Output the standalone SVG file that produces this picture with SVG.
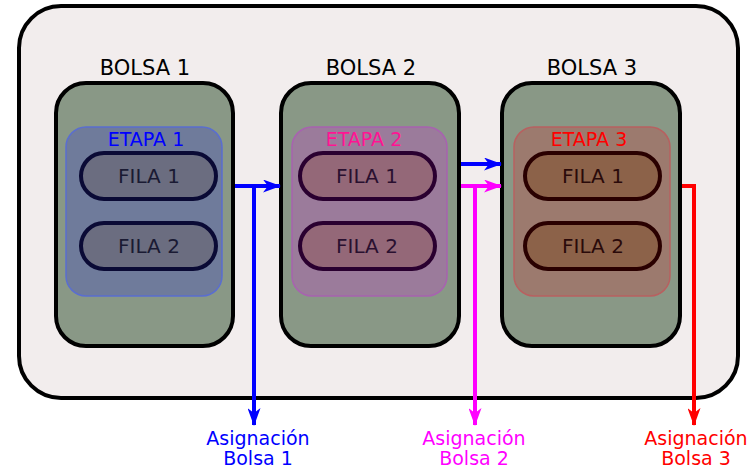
<svg xmlns="http://www.w3.org/2000/svg" width="751" height="471" viewBox="0 0 751 471">
<style>
text{font-family:"DejaVu Sans","Liberation Sans",sans-serif;text-anchor:middle}
.bolsa{fill:#899886;stroke:#000;stroke-width:4}
.blabel{font-size:21px;fill:#000}
.etapa{stroke-width:1.5}
.fila{stroke-width:4}
.ftxt{font-size:20px}
.elabel{font-size:19px}
.lab{font-size:19px}
.wire{fill:none;stroke-width:4}
</style>
<defs>
<marker id="ab" viewBox="0 0 18 13" refX="17" refY="6.5" markerWidth="18" markerHeight="13" orient="auto" markerUnits="userSpaceOnUse"><path d="M0,0 L18,6.5 L0,13 L5,6.5 Z" fill="#0000ff"/></marker>
<marker id="am" viewBox="0 0 18 13" refX="17" refY="6.5" markerWidth="18" markerHeight="13" orient="auto" markerUnits="userSpaceOnUse"><path d="M0,0 L18,6.5 L0,13 L5,6.5 Z" fill="#ff00ff"/></marker>
<marker id="ar" viewBox="0 0 18 13" refX="17" refY="6.5" markerWidth="18" markerHeight="13" orient="auto" markerUnits="userSpaceOnUse"><path d="M0,0 L18,6.5 L0,13 L5,6.5 Z" fill="#ff0000"/></marker>
</defs>
<g id="contenedor">
<rect x="19" y="6" width="719" height="392" rx="42" fill="#f2eded" stroke="#000" stroke-width="4"/>
</g>
<g id="bolsa1">
<text class="blabel" x="145" y="75">BOLSA 1</text>
<rect class="bolsa" x="56" y="83" width="177" height="263" rx="30"/>
<rect class="etapa" x="66" y="127" width="156" height="169" rx="20" fill="#6f7b9b" stroke="#5a6ed0"/>
<text class="elabel" x="146" y="146" fill="#0000ff">ETAPA 1</text>
<rect class="fila" x="81" y="153" width="135" height="46" rx="23" fill="#6b6d80" stroke="#0a0a35"/>
<text class="ftxt" x="149" y="183" fill="#1a1a33">FILA 1</text>
<rect class="fila" x="81" y="223" width="135" height="46" rx="23" fill="#6b6d80" stroke="#0a0a35"/>
<text class="ftxt" x="149" y="253" fill="#1a1a33">FILA 2</text>
</g>
<g id="bolsa2">
<text class="blabel" x="371" y="75">BOLSA 2</text>
<rect class="bolsa" x="281" y="83" width="178" height="263" rx="30"/>
<rect class="etapa" x="292" y="127" width="155" height="169" rx="20" fill="#9b7b9b" stroke="#a862b0"/>
<text class="elabel" x="364" y="146" fill="#ff1493">ETAPA 2</text>
<rect class="fila" x="300" y="153" width="135" height="46" rx="23" fill="#946878" stroke="#2a0030"/>
<text class="ftxt" x="367" y="183" fill="#2a1030">FILA 1</text>
<rect class="fila" x="300" y="223" width="135" height="46" rx="23" fill="#946878" stroke="#2a0030"/>
<text class="ftxt" x="367" y="253" fill="#2a1030">FILA 2</text>
</g>
<g id="bolsa3">
<text class="blabel" x="592" y="75">BOLSA 3</text>
<rect class="bolsa" x="502" y="83" width="178" height="263" rx="30"/>
<rect class="etapa" x="514" y="127" width="156" height="169" rx="20" fill="#9c7a6e" stroke="#b86060"/>
<text class="elabel" x="589" y="146" fill="#ff0000">ETAPA 3</text>
<rect class="fila" x="525" y="153" width="135" height="46" rx="23" fill="#8c6249" stroke="#2a0000"/>
<text class="ftxt" x="593" y="183" fill="#2a0a0a">FILA 1</text>
<rect class="fila" x="525" y="223" width="135" height="46" rx="23" fill="#8c6249" stroke="#2a0000"/>
<text class="ftxt" x="593" y="253" fill="#2a0a0a">FILA 2</text>
</g>
<g id="conectores">
<path class="wire" d="M235,186 H280" stroke="#0000ff" marker-end="url(#ab)"/>
<path class="wire" d="M254,186 V425" stroke="#0000ff" marker-end="url(#ab)"/>
<path class="wire" d="M461,164 H501" stroke="#0000ff" marker-end="url(#ab)"/>
<path class="wire" d="M461,186 H501" stroke="#ff00ff" marker-end="url(#am)"/>
<path class="wire" d="M475,186 V425" stroke="#ff00ff" marker-end="url(#am)"/>
<path class="wire" d="M682,186 H694 V425" stroke="#ff0000" marker-end="url(#ar)"/>
</g>
<g id="etiquetas">
<text class="lab" x="258" y="445" fill="#0000ff">Asignación</text>
<text class="lab" x="258" y="465" fill="#0000ff">Bolsa 1</text>
<text class="lab" x="474" y="445" fill="#ff00ff">Asignación</text>
<text class="lab" x="474" y="465" fill="#ff00ff">Bolsa 2</text>
<text class="lab" x="696" y="445" fill="#ff0000">Asignación</text>
<text class="lab" x="696" y="465" fill="#ff0000">Bolsa 3</text>
</g>
</svg>
